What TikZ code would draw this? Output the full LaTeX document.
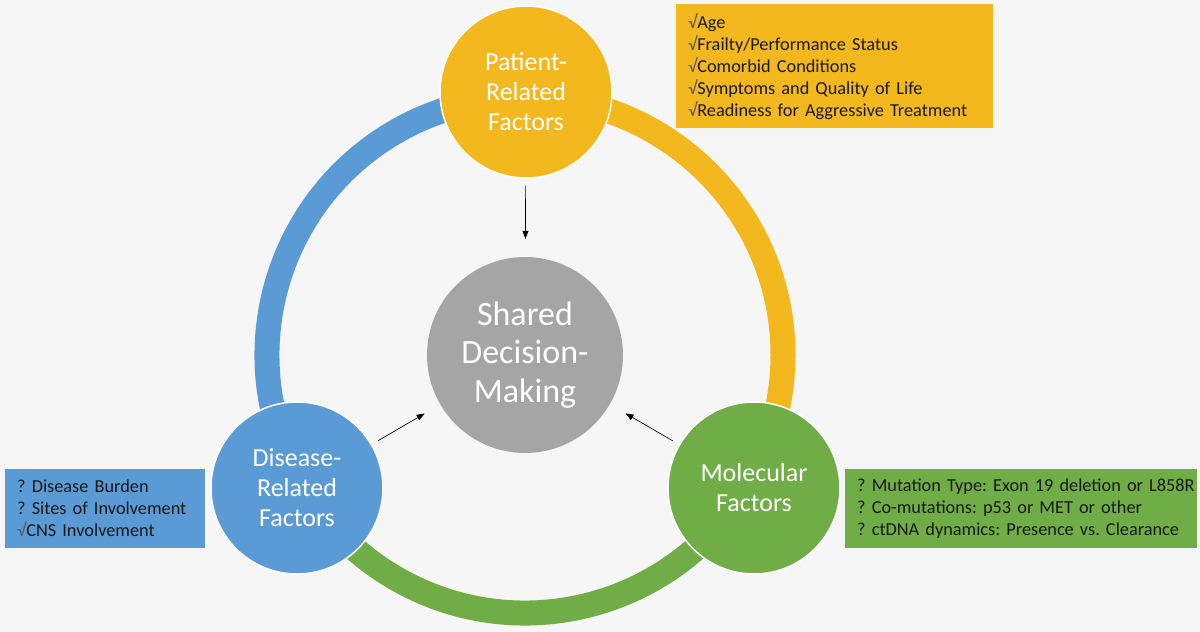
\documentclass[tikz,border=0pt]{standalone}
\usepackage{fontspec}
\setmainfont{Carlito}
\usetikzlibrary{arrows.meta}
\definecolor{bggray}{HTML}{F6F6F6}
\definecolor{gold}{HTML}{F4B81F}
\definecolor{ltblue}{HTML}{5B9BD5}
\definecolor{ltgreen}{HTML}{70AD47}
\definecolor{midgray}{HTML}{A5A5A5}
\definecolor{chkgray}{HTML}{5A5A5A}
\newcommand\chk{{\color{chkgray}√}}
\newcommand\boxfont{\fontsize{18.3}{22}\selectfont\spaceskip=3.1pt plus 1pt minus 1pt\relax}
\frenchspacing

\begin{document}
\begin{tikzpicture}[x=1pt, y=-1pt,
    factor/.style={circle, draw=white, line width=1.5pt, minimum size=172pt, inner sep=0pt,
      text=white, align=center, font=\fontsize{26}{30}\selectfont},
    infobox/.style={rectangle, anchor=north west, inner xsep=12pt, inner ysep=0pt,
      align=left, text=black!90, font=\boxfont},
    band/.style={line width=25pt},
    link/.style={-{Triangle[length=8pt,width=6pt]}, line width=0.7pt, shorten <=7pt, shorten >=18pt}]
        \useasboundingbox (0,0) rectangle (1200,632);
        \fill[bggray] (0,0) rectangle (1200,632);
        % ring behind the factors
        \coordinate (c) at (525,355);
        \draw[band, ltblue] (c) ++(150:258) arc[start angle=150, end angle=270, radius=258];
        \draw[band, gold] (c) ++(270:258) arc[start angle=270, end angle=390, radius=258];
        \draw[band, ltgreen] (c) ++(30:258) arc[start angle=30, end angle=150, radius=258];
        % factors
        \node[factor, fill=gold] (pat) at (526,92) {Patient-\\Related\\Factors};
        \node[factor, fill=ltblue] (dis) at (297,488) {Disease-\\Related\\Factors};
        \node[factor, fill=ltgreen] (mol) at (754,488) {Molecular\\Factors};
        \node[circle, fill=midgray, minimum size=196pt, inner sep=0pt, text=white, align=center,
          font=\fontsize{34}{38.5}\selectfont] (sdm) at (525,355) {Shared\\Decision-\\Making};
        \draw[link] (pat) -- (sdm);
        \draw[link] (dis) -- (sdm);
        \draw[link] (mol) -- (sdm);
        % lists
        \node[infobox, fill=gold, text width=293pt, minimum height=124pt] (patbox) at (676,4)
          {\chk Age\\\chk Frailty/Performance Status\\\chk Comorbid Conditions\\
           \chk Symptoms and Quality of Life\\\chk Readiness for Aggressive Treatment};
        \node[infobox, fill=ltblue, text width=176pt, minimum height=79pt] (disbox) at (5,469)
          {? Disease Burden\\? Sites of Involvement\\\chk CNS Involvement};
        \node[infobox, fill=ltgreen, text width=328pt, minimum height=79pt] (molbox) at (845,469)
          {\mbox{? Mutation Type: Exon 19 deletion or L858R}\\? Co-mutations: p53 or MET or other\\
           \mbox{? ctDNA dynamics: Presence vs. Clearance}};
\end{tikzpicture}
\end{document}
